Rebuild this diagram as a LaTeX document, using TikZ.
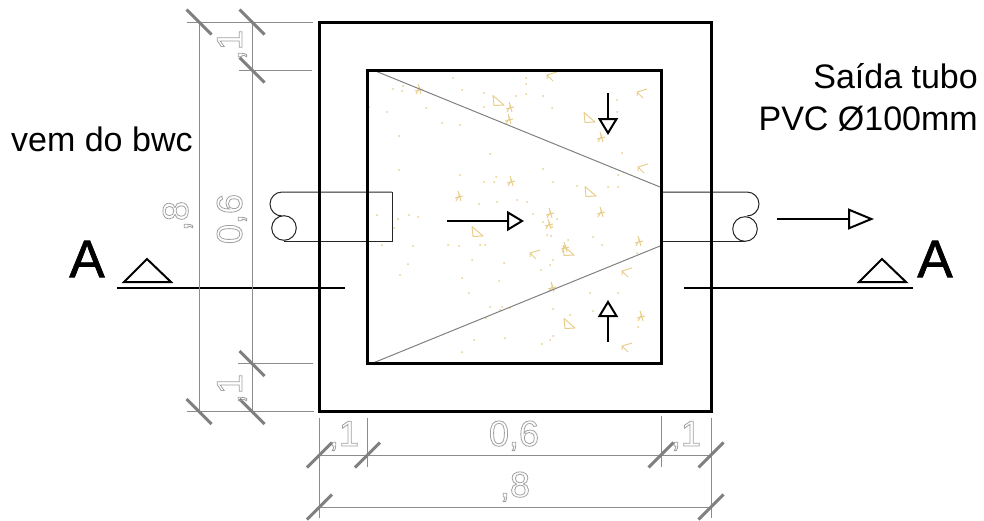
\documentclass[tikz,border=0pt]{standalone}
\usepackage{fontspec}
\setmainfont{Liberation Sans}
\usetikzlibrary{arrows.meta}
\definecolor{hatchyellow}{HTML}{E8CE8C}
\definecolor{dimgray}{HTML}{8C8C8C}
\definecolor{dimtext}{HTML}{A0A0A0}
\newcommand{\hollow}[1]{\special{pdf:code 1 Tr 0.8 w}#1\special{pdf:code 0 Tr}}
\newcommand{\heavy}[1]{\special{pdf:code 2 Tr 0.7 w}#1\special{pdf:code 0 Tr}}
\tikzset{
  wall/.style={line width=3pt},
  pipe/.style={line width=1pt, draw=black!85},
  slope/.style={line width=1pt, draw=black!50},
  extline/.style={line width=1pt, draw=dimgray},
  dimtick/.style={line width=3pt, draw=black!50},
  cutline/.style={line width=2pt},
  flow/.style={line width=2pt, -{Triangle[open, length=17pt, width=20pt, line width=2pt]}},
  flowlong/.style={line width=2pt, -{Triangle[open, length=26pt, width=21pt, line width=2pt]}},
  dimlabel/.style={text=dimtext, font=\fontsize{36}{36}\selectfont, anchor=base, inner sep=0pt},
  bigtext/.style={font=\fontsize{34}{42}\selectfont, inner sep=0pt},
  cutlabel/.style={font=\fontsize{53}{53}\selectfont, inner sep=0pt},
  sandline/.style={line width=1pt, draw=hatchyellow, line join=round},
  hatchtri/.pic={\draw[sandline] (-5,-6.5) -- (-4,3.5) -- (6,3) -- cycle;},
  hatcharrow/.pic={\draw[sandline] (5,-4) -- (-5,-1) -- (1,5) (-5,-1) -- (-5,3);},
  hatchstar/.pic={\draw[sandline] (-1,-5) -- (2,5) (-4,2) -- (4,0) (-3,5) -- (1,-2);}
}
\begin{document}
\begin{tikzpicture}[x=1pt, y=-1pt]
  \useasboundingbox (0,0) rectangle (984,520);

  % Sand hatch
  \foreach \px/\py in {498/102, 589/119, 590/193, 477/233, 568/252, 569/325}
    \pic at (\px,\py) {hatchtri};
  \foreach \px/\py in {552/76, 642/93, 643/168, 535/254, 627/272, 627/347}
    \pic at (\px,\py) {hatcharrow};
  \foreach \px/\py in {419/89, 510/107, 509/119, 601/137, 511/181, 459/196, 550/213, 549/224, 601/212, 639/241, 565/247, 552/287, 641/316}
    \pic at (\px,\py) {hatchstar};
  \foreach \px/\py in {393/89, 403/86, 402/91, 426/108, 387/112, 369/107, 399/136, 377/215, 398/219, 409/215, 418/217, 394/228, 382/245, 413/246,
    442/123, 460/125, 399/170, 462/90, 453/78, 484/93, 484/107, 526/78, 526/84, 526/94, 516/96, 543/96, 552/108,
    460/175, 484/182, 496/177, 494/182, 490/154, 543/169, 553/182, 577/186, 608/187, 618/187, 618/175, 622/153, 617/100, 617/112,
    479/204, 497/202, 517/200, 527/202, 533/214, 557/219, 543/222, 552/227,
    448/245, 459/246, 485/245, 480/245, 472/260, 504/263, 462/278, 469/293, 490/307, 500/310, 502/307, 510/308, 486/318, 474/340, 505/338,
    462/352, 542/344, 550/340, 553/336, 553/309, 570/315, 593/311, 590/293, 618/293, 550/265, 541/270, 553/260, 547/235, 551/236, 568/240, 593/237, 602/245, 637/253, 638/327,
    408/264, 499/281, 400/275}
    \fill[hatchyellow] (\px,\py) circle (1);

  % Pipes
  \draw[pipe] (392,192) -- (282,192) arc[start angle=270, end angle=90, radius=12];
  \draw[pipe] (284,228) circle (12.3);
  \draw[pipe] (284,241) -- (392,241) -- (392,192);
  \draw[pipe] (661,192) -- (747,192) arc[start angle=270, end angle=450, radius=12];
  \draw[pipe] (745,229) circle (12.3);
  \draw[pipe] (661,241) -- (745,241);

  % Sloped bottom
  \draw[slope] (373,70) -- (660,187);
  \draw[slope] (373,363) -- (660,246);

  % Tank walls
  \draw[wall] (319.5,22) rectangle (711,411.5);
  \draw[wall] (367.5,70) rectangle (661,363.5);

  % Flow arrows
  \draw[flow] (447,221) -- (524,221);
  \draw[flow] (608,93) -- (608,135);
  \draw[flow] (608,342) -- (608,300);
  \draw[flowlong] (777,219) -- (874,219);

  % Section marks
  \draw[cutline] (117,288) -- (345,288);
  \draw[cutline] (684,288) -- (913,288);
  \draw[cutline, line join=miter] (124,282) -- (147,259) -- (171,282) -- cycle;
  \draw[cutline, line join=miter] (859,282) -- (882,259) -- (906,282) -- cycle;
  \node[cutlabel] (cutA) at (87,259) {\heavy{A}};
  \node[cutlabel] (cutB) at (935,259) {\heavy{A}};

  % Texts
  \node[bigtext, anchor=base west] (inlet) at (11,151) {vem do bwc};
  \node[bigtext, anchor=north east, align=right] (outlet) at (978,63) {Saída tubo\\PVC Ø100mm};

  % Vertical dimensions
  \draw[extline] (187,22) -- (313,22);
  \draw[extline] (239,70) -- (312,70);
  \draw[extline] (238,363.5) -- (313,363.5);
  \draw[extline] (187,411.5) -- (314,411.5);
  \draw[extline] (199,22) -- (199,411.5);
  \draw[extline] (252,22) -- (252,411.5);
  \foreach \px/\py in {199/22, 252/22, 252/70, 252/363.5, 252/411.5, 199/411.5}
    \draw[dimtick] (\px-12.5,\py-12.5) -- (\px+12.5,\py+12.5);
  \node[dimlabel, rotate=90] (dimV1) at (242,45) {\hollow{,1}};
  \node[dimlabel, rotate=90] (dimV2) at (242,219) {\hollow{0,6}};
  \node[dimlabel, rotate=90] (dimV3) at (188,216) {\hollow{,8}};
  \node[dimlabel, rotate=90] (dimV4) at (242,389) {\hollow{,1}};

  % Horizontal dimensions
  \draw[extline] (319.5,418) -- (319.5,518);
  \draw[extline] (367.5,418) -- (367.5,467);
  \draw[extline] (661,416) -- (661,467);
  \draw[extline] (711,418) -- (711,518);
  \draw[extline] (319.5,455) -- (711,455);
  \draw[extline] (319.5,507) -- (711,507);
  \foreach \px/\py in {319.5/455, 367.5/455, 661/455, 711/455, 319.5/507, 711/507}
    \draw[dimtick] (\px-12.5,\py+12.5) -- (\px+12.5,\py-12.5);
  \node[dimlabel] (dimH1) at (344,446) {\hollow{,1}};
  \node[dimlabel] (dimH2) at (514,446) {\hollow{0,6}};
  \node[dimlabel] (dimH3) at (686,446) {\hollow{,1}};
  \node[dimlabel] (dimH4) at (515,497) {\hollow{,8}};
\end{tikzpicture}
\end{document}
